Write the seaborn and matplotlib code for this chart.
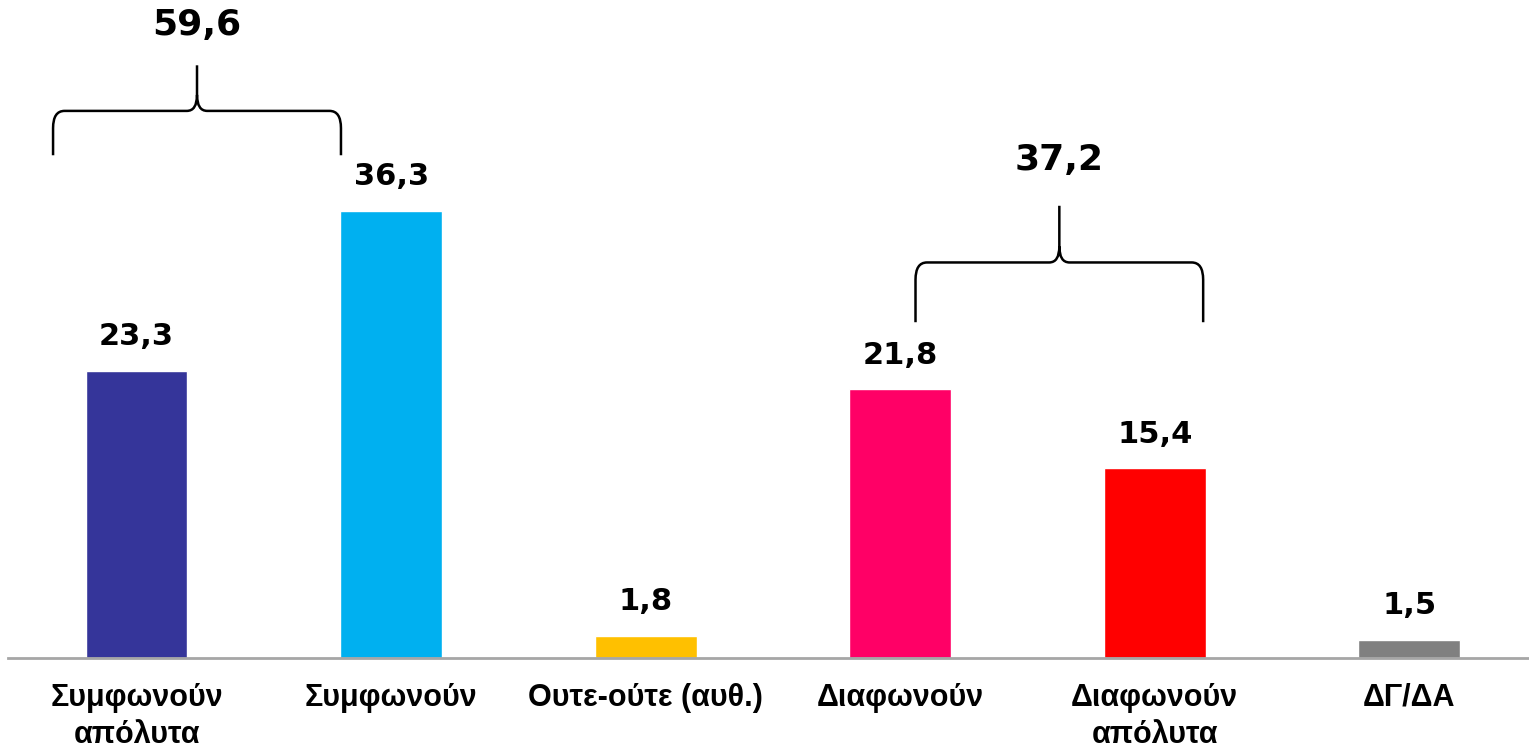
import numpy as np
import matplotlib
matplotlib.use("Agg")
import matplotlib.pyplot as plt
from matplotlib.path import Path
from matplotlib.patches import PathPatch
import seaborn as sns
import pandas as pd

categories = ["Συμφωνούν\nαπόλυτα", "Συμφωνούν", "Ουτε-ούτε (αυθ.)",
              "Διαφωνούν", "Διαφωνούν\nαπόλυτα", "ΔΓ/ΔΑ"]
values = [23.3, 36.3, 1.8, 21.8, 15.4, 1.5]
colors = ["#35359A", "#00B0F0", "#FFC000", "#FF0066", "#FF0000", "#808080"]
group_totals = ["59,6", "37,2"]
group_members = [(0, 1), (3, 4)]


def fmt(v):
    return f"{v:.1f}".replace(".", ",")


def draw_brace(ax, x0, x1, yb, yh, ytip, rx=0.045, ry=1.4, tx=0.04, ty=1.3):
    """Curly brace opening downward, tip in the middle pointing up"""
    xm = (x0 + x1) / 2
    verts = [(x0, yb), (x0, yh - ry), (x0, yh), (x0 + rx, yh),
             (xm - tx, yh), (xm, yh), (xm, yh + ty), (xm, ytip),
             (xm, yh + ty), (xm, yh), (xm + tx, yh),
             (x1 - rx, yh), (x1, yh), (x1, yh - ry), (x1, yb)]
    codes = [Path.MOVETO, Path.LINETO, Path.CURVE3, Path.CURVE3,
             Path.LINETO, Path.CURVE3, Path.CURVE3, Path.LINETO,
             Path.MOVETO, Path.CURVE3, Path.CURVE3,
             Path.LINETO, Path.CURVE3, Path.CURVE3, Path.LINETO]
    ax.add_patch(PathPatch(Path(verts, codes), fill=False, lw=1.8, color="black",
                           capstyle="butt"))


sns.set_theme(style="white")
plt.rcParams['font.family'] = ['DejaVu Sans']
plt.rcParams['text.color'] = 'black'
plt.rcParams['xtick.color'] = 'black'

df = pd.DataFrame({"cat": categories, "val": values})

fig = plt.figure(figsize=(15.29, 7.48), dpi=100)
ax = fig.add_axes([8 / 1529, 90 / 748, 1521 / 1529, 658 / 748])
sns.barplot(data=df, x="cat", y="val", hue="cat", palette=colors, legend=False,
            width=0.4, saturation=1, ax=ax)

ax.set_xlim(-0.505, 5.47)
ax.set_ylim(0, 53.4)
ax.set_xlabel("")
ax.set_ylabel("")
ax.set_yticks([])
for s in ["top", "right", "left"]:
    ax.spines[s].set_visible(False)
ax.spines["bottom"].set_color("#A6A6A6")
ax.spines["bottom"].set_linewidth(2)
ax.tick_params(axis="x", length=0, pad=18)
ax.set_xticks(range(len(categories)))
ax.set_xticklabels(categories, fontsize=22, fontweight="bold", linespacing=1.3,
                   family=["Liberation Sans Narrow", "Liberation Sans", "DejaVu Sans"])
for lbl in ax.get_xticklabels():
    lbl.set_verticalalignment("top")

for i, v in enumerate(values):
    ax.annotate(fmt(v), (i, v), xytext=(0, 14), textcoords="offset points",
                ha="center", va="bottom", fontsize=22, fontweight="bold")

# group braces with totals
brace_geom = [(-0.328, 0.803, 40.8, 44.4, 48.1, 51.4),
              (3.06, 4.19, 27.25, 32.1, 36.7, 40.4)]
for total, (x0, x1, yb, yh, yt, ytxt) in zip(group_totals, brace_geom):
    draw_brace(ax, x0, x1, yb, yh, yt)
    ax.text((x0 + x1) / 2, ytxt, total, ha="center", va="center",
            fontsize=26, fontweight="bold")

fig.savefig("out.png", dpi=100)
